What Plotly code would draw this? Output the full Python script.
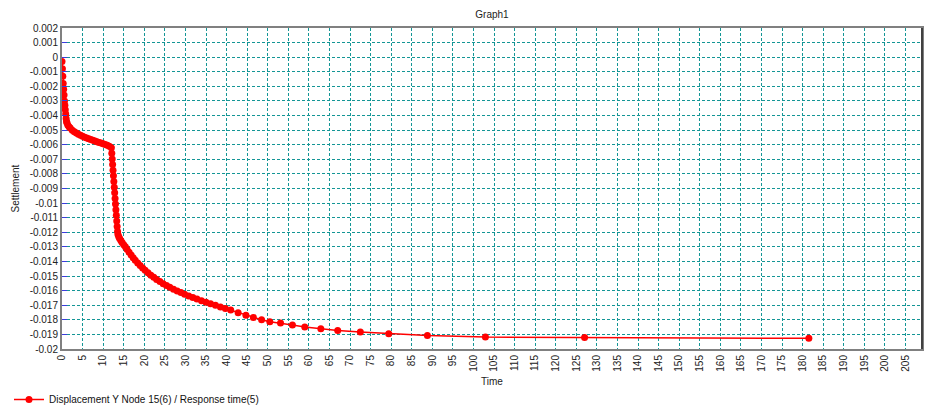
import plotly.graph_objects as go

# ---- data ----
time = [
    0.0, 0.1, 0.2, 0.3, 0.4, 0.5, 0.6, 0.7, 0.8, 0.9, 1.0, 1.1, 1.2, 1.4, 1.7,
    2.0, 2.5, 3.0, 3.5, 4.0, 4.5, 5.0, 5.5, 6.0, 6.5, 7.0, 7.5, 8.0, 8.5, 9.0,
    9.5, 10.0, 10.5, 11.0, 11.5, 12.0,
    12.1, 12.2, 12.3, 12.4, 12.5, 12.6, 12.7, 12.8, 12.9, 13.0, 13.1, 13.2,
    13.3, 13.4, 13.5, 13.6, 13.8, 14.0, 14.3, 14.6, 15.0, 15.4, 15.8, 16.3,
    16.8, 17.3, 17.8, 18.4, 19.0, 19.6, 20.2, 20.9, 21.6, 22.3, 23.0, 23.8,
    24.6, 25.4, 26.2, 27.1, 28.0, 28.9, 29.8, 30.8, 31.8, 32.8, 33.9, 35.0,
    36.1, 37.3, 38.5, 39.7, 41.0, 42.8, 44.7, 46.5, 48.5, 50.5, 53.1, 56.0,
    59.0, 62.9, 67.0, 72.5, 79.4, 88.8, 102.9, 127.0, 181.5,
]
settlement = [
    -0.0003, -0.0008, -0.0013, -0.0018, -0.0022, -0.0026, -0.0030, -0.0033,
    -0.0036, -0.0039, -0.0042, -0.0044, -0.0045, -0.00465, -0.00477,
    -0.00485, -0.00500, -0.00511, -0.00520, -0.00528, -0.00535, -0.00542,
    -0.00548, -0.00554, -0.00559, -0.00564, -0.00569, -0.00574, -0.00579,
    -0.00584, -0.00589, -0.00594, -0.00599, -0.00604, -0.00610, -0.00620,
    -0.00659, -0.00697, -0.00736, -0.00775, -0.00813, -0.00852, -0.00891,
    -0.00929, -0.00968, -0.01007, -0.01045, -0.01084, -0.01123, -0.01161,
    -0.01195, -0.01215, -0.01230, -0.01242, -0.01257, -0.01270, -0.01286,
    -0.01300, -0.01317, -0.01337, -0.01356, -0.01374, -0.01391, -0.01410,
    -0.01428, -0.01445, -0.01461, -0.01478, -0.01494, -0.01509, -0.01523,
    -0.01538, -0.01552, -0.01565, -0.01577, -0.01590, -0.01602, -0.01613,
    -0.01624, -0.01636, -0.01647, -0.01658, -0.01669, -0.01680, -0.01690,
    -0.01701, -0.01712, -0.01722, -0.01733, -0.01752, -0.01768, -0.01784,
    -0.01800, -0.01813, -0.01822, -0.01836, -0.01850, -0.01861, -0.01874,
    -0.01884, -0.01895, -0.01907, -0.01918, -0.01922, -0.01927,
]
series_name = "Displacement Y Node 15(6) / Response time(5)"
y_tick_labels = [
    "0.002", "0.001", "0", "-0.001", "-0.002", "-0.003", "-0.004", "-0.005",
    "-0.006", "-0.007", "-0.008", "-0.009", "-0.01", "-0.011", "-0.012",
    "-0.013", "-0.014", "-0.015", "-0.016", "-0.017", "-0.018", "-0.019",
    "-0.02",
]
y_tick_values = [float(s) for s in y_tick_labels]

FONT = "Liberation Sans, Arial, sans-serif"
GRID = "rgb(20,150,150)"

fig = go.Figure()
fig.add_trace(go.Scatter(
    x=time, y=settlement, name=series_name, mode="lines+markers",
    line=dict(color="rgb(255,0,0)", width=1.5),
    marker=dict(color="rgb(255,0,0)", size=7, line=dict(width=0)),
    showlegend=True,
))

fig.update_layout(
    width=925, height=407,
    margin=dict(l=62, r=3, t=28, b=58, autoexpand=False),
    paper_bgcolor="white", plot_bgcolor="white",
    font=dict(family=FONT, size=10, color="#222"),
    title=dict(text="Graph1", x=0.5, xref="paper", xanchor="center",
               y=1 - 14 / 407, yref="container", yanchor="middle",
               font=dict(size=10, color="#222")),
    showlegend=True,
    legend=dict(orientation="h", xref="container", yref="container",
                x=9 / 925, xanchor="left", y=1 - 385 / 407, yanchor="top",
                font=dict(size=10, color="#111"), bgcolor="rgba(0,0,0,0)",
                itemwidth=30),
)

fig.update_xaxes(
    range=[0, 209], dtick=5, tick0=0, tickangle=-90,
    showgrid=True, gridcolor=GRID, griddash="3px,2px", gridwidth=1,
    zeroline=False, showline=True, mirror=True, linecolor="#808080", linewidth=2,
    ticks="", tickfont=dict(size=10, color="#222"), automargin=False,
)
fig.update_yaxes(
    range=[-0.02, 0.002], tickmode="array", tickvals=y_tick_values,
    ticktext=y_tick_labels,
    showgrid=True, gridcolor=GRID, griddash="3px,2px", gridwidth=1,
    zeroline=False, showline=True, mirror=True, linecolor="#808080", linewidth=2,
    ticks="inside", ticklen=5, tickcolor="rgb(60,60,220)",
    tickfont=dict(size=10, color="#222"), automargin=False,
)

# darker right-hand frame edge, as in the reference
fig.add_shape(type="line", xref="paper", yref="paper", x0=1, x1=1, y0=0, y1=1,
              line=dict(color="#404040", width=2), layer="above")

fig.add_annotation(text="Time", x=0.5, y=-33 / 321, xref="paper", yref="paper",
                   xanchor="center", yanchor="middle", showarrow=False,
                   font=dict(size=10, color="#222"))
fig.add_annotation(text="Settlement", x=-47 / 860, y=0.5, xref="paper", yref="paper",
                   xanchor="center", yanchor="middle", textangle=-90, showarrow=False,
                   font=dict(size=10, color="#222"))

fig.write_html(
    "out.html",
    config={"displayModeBar": False},
    post_script="document.body.style.margin='0';document.body.style.overflow='hidden';",
)
